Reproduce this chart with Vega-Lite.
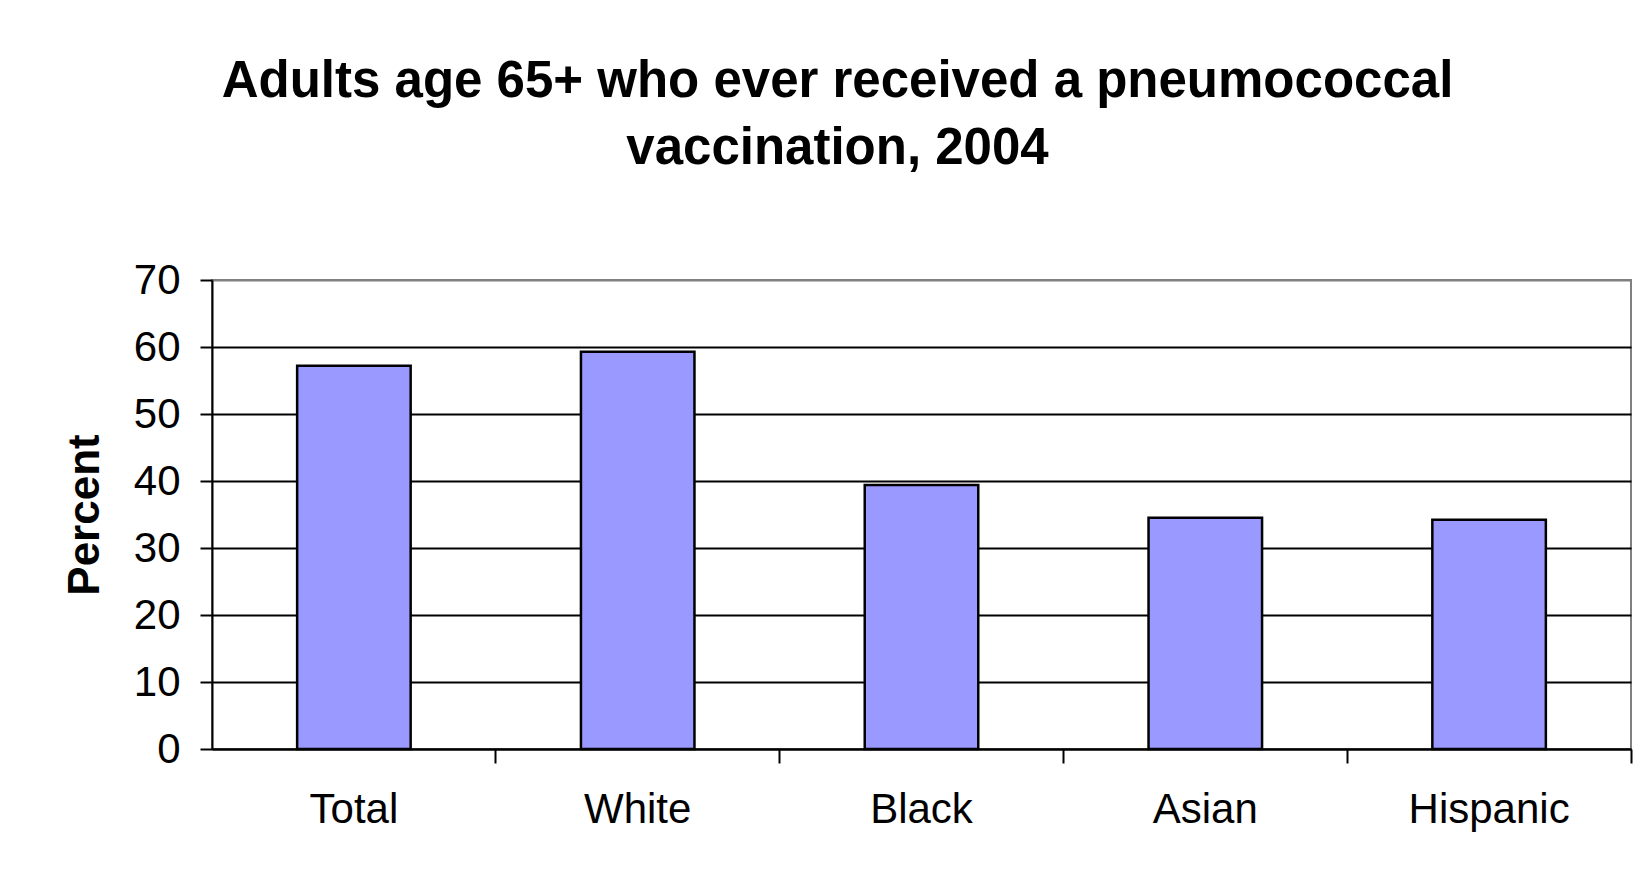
{
  "$schema": "https://vega.github.io/schema/vega-lite/v6.json",
  "autosize": "none",
  "width": 1419,
  "height": 469,
  "padding": {"left": 212, "top": 280, "right": 17, "bottom": 135},
  "background": "white",
  "title": {
    "text": ["Adults age 65+ who ever received a pneumococcal", "vaccination, 2004"],
    "font": "Liberation Sans",
    "fontSize": 51,
    "fontWeight": "bold",
    "color": "black",
    "anchor": "middle",
    "frame": "group",
    "dx": -84,
    "offset": 44,
    "baseline": "alphabetic",
    "lineHeight": 67
  },
  "data": {
    "values": [
      {"group": "Total", "percent": 57.2},
      {"group": "White", "percent": 59.3},
      {"group": "Black", "percent": 39.4},
      {"group": "Asian", "percent": 34.5},
      {"group": "Hispanic", "percent": 34.2}
    ]
  },
  "mark": {"type": "bar", "fill": "#9999FF", "stroke": "black", "strokeWidth": 2.5},
  "encoding": {
    "x": {
      "field": "group",
      "type": "nominal",
      "sort": null,
      "scale": {"paddingInner": 0.6, "paddingOuter": 0.3},
      "axis": {
        "title": null,
        "labelAngle": 0,
        "labelFont": "Liberation Sans",
        "labelFontSize": 42,
        "labelColor": "black",
        "labelPadding": 26,
        "domainColor": "black",
        "domainWidth": 2,
        "tickColor": "black",
        "tickWidth": 2,
        "tickSize": 14,
        "bandPosition": 1.75,
        "grid": false
      }
    },
    "y": {
      "field": "percent",
      "type": "quantitative",
      "scale": {"domain": [0, 70], "nice": false},
      "axis": {
        "title": "Percent",
        "titleFont": "Liberation Sans",
        "titleFontSize": 44,
        "titleFontWeight": "bold",
        "titleColor": "black",
        "titlePadding": 26,
        "values": [0, 10, 20, 30, 40, 50, 60, 70],
        "labelFont": "Liberation Sans",
        "labelFontSize": 42,
        "labelColor": "black",
        "labelPadding": 20,
        "domainColor": "black",
        "domainWidth": 2,
        "tickColor": "black",
        "tickWidth": 2,
        "tickSize": 12,
        "grid": true,
        "gridColor": {"condition": {"test": "datum.value === 70", "value": "#808080"}, "value": "black"},
        "gridWidth": 2,
        "gridOpacity": 1
      }
    }
  },
  "config": {
    "view": {"stroke": "#808080", "strokeWidth": 2}
  }
}
